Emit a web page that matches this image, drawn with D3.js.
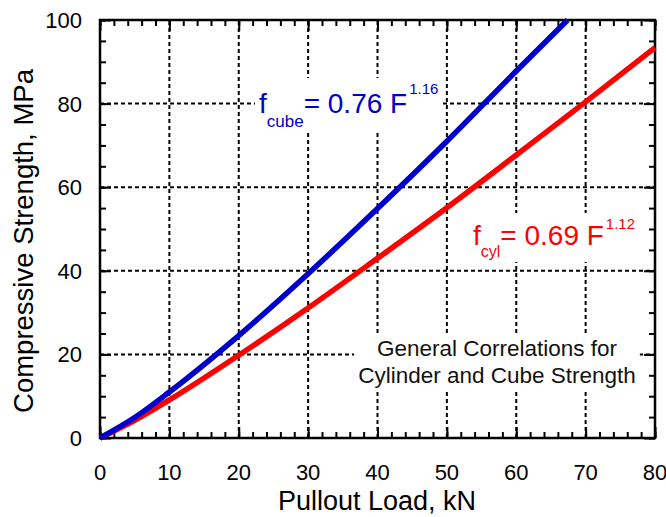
<!DOCTYPE html>
<html>
<head>
<meta charset="utf-8">
<script src="https://cdn.jsdelivr.net/npm/d3@7"></script>
<style>
  body { margin: 0; background: #fff; }
  text { font-family: "Liberation Sans", Arial, sans-serif; }
</style>
</head>
<body>
<script>
// values (load kN -> strength MPa)
const cubeLoad = [0, 5, 10, 20, 30, 40, 50, 60, 67.4];
const cubeStrength = [0, 4.9, 11, 24.5, 39.3, 54.9, 71, 87.8, 100];
const cylLoad = [0, 5, 10, 20, 30, 40, 50, 60, 70, 80];
const cylStrength = [0, 4.2, 9.1, 19.8, 31.1, 43, 55.1, 67.7, 80.4, 93.4];
const xTicks = [0, 10, 20, 30, 40, 50, 60, 70, 80];
const yTicks = [0, 20, 40, 60, 80, 100];

main();

function main() {
  const width = 666;
  const height = 517;
  const margin = { top: 20, right: 11, bottom: 79, left: 100 };

  const svg = d3.select("body").append("svg")
    .attr("width", width)
    .attr("height", height);

  const x = d3.scaleLinear().domain([0, 80]).range([margin.left, width - margin.right]);
  const y = d3.scaleLinear().domain([0, 100]).range([height - margin.bottom, margin.top]);

  // dotted grid
  const grid = svg.append("g")
    .attr("stroke", "#000")
    .attr("stroke-width", 2)
    .attr("stroke-dasharray", "4,3");
  grid.selectAll(".gx").data(xTicks.slice(1, -1)).join("line")
    .attr("x1", d => x(d)).attr("x2", d => x(d))
    .attr("y1", y(0)).attr("y2", y(100));
  grid.selectAll(".gy").data(yTicks.slice(1, -1)).join("line")
    .attr("y1", d => y(d)).attr("y2", d => y(d))
    .attr("x1", x(0)).attr("x2", x(80));

  // annotation texts sit on white boxes over the grid
  const notes = svg.append("g");

  const eq1 = notes.append("text").attr("x", 259).attr("y", 113)
    .attr("font-size", 28).attr("fill", "#0000cc");
  eq1.append("tspan").text("f");
  eq1.append("tspan").attr("font-size", 17).attr("dy", 14).text("cube");
  eq1.append("tspan").attr("dy", -14).text("= 0.76 F");
  eq1.append("tspan").attr("font-size", 15).attr("dy", -19).attr("dx", 2).text("1.16");

  const eq2 = notes.append("text").attr("x", 473).attr("y", 245)
    .attr("font-size", 28).attr("fill", "#ff0000");
  eq2.append("tspan").text("f");
  eq2.append("tspan").attr("font-size", 16).attr("dy", 12).text("cyl");
  eq2.append("tspan").attr("dy", -12).text("= 0.69 F");
  eq2.append("tspan").attr("font-size", 15).attr("dy", -16).attr("dx", 2).text("1.12");

  const note = notes.append("text")
    .attr("text-anchor", "middle").attr("font-size", 22.5).attr("fill", "#111");
  note.append("tspan").attr("x", 497).attr("y", 356).text("General Correlations for");
  note.append("tspan").attr("x", 497).attr("y", 383).text("Cylinder and Cube Strength");

  [eq1, eq2, note].forEach(t => {
    const b = t.node().getBBox();
    notes.insert("rect", () => t.node())
      .attr("x", b.x - 4).attr("y", b.y - 2)
      .attr("width", b.width + 8).attr("height", b.height + 4)
      .attr("fill", "#fff");
  });

  // inward ticks on all four sides
  const tickFmt = () => "";
  const xMinor = d3.range(0, 81, 2);
  const yMinor = d3.range(0, 101, 5);
  const axes = [
    d3.axisBottom(x).tickValues(xMinor).tickSize(-6),
    d3.axisTop(x).tickValues(xMinor).tickSize(-6),
    d3.axisLeft(y).tickValues(yMinor).tickSize(-6),
    d3.axisRight(y).tickValues(yMinor).tickSize(-6),
    d3.axisBottom(x).tickValues(xTicks).tickSize(-11),
    d3.axisTop(x).tickValues(xTicks).tickSize(-11),
    d3.axisLeft(y).tickValues(yTicks).tickSize(-11),
    d3.axisRight(y).tickValues(yTicks).tickSize(-11)
  ];
  const trans = [
    `translate(0,${y(0)})`, `translate(0,${y(100)})`,
    `translate(${x(0)},0)`, `translate(${x(80)},0)`
  ];
  axes.forEach((a, i) => {
    const g = svg.append("g")
      .attr("transform", trans[i % 4])
      .call(a.tickFormat(tickFmt).tickSizeOuter(0));
    g.select(".domain").remove();
    g.selectAll("line").attr("stroke", "#000").attr("stroke-width", 2);
  });

  // tick labels
  svg.append("g").selectAll("text").data(xTicks).join("text")
    .attr("x", d => x(d)).attr("y", 480)
    .attr("text-anchor", "middle")
    .attr("font-size", 22)
    .text(d => d);
  svg.append("g").selectAll("text").data(yTicks).join("text")
    .attr("x", 82).attr("y", d => y(d) + 8)
    .attr("text-anchor", "end")
    .attr("font-size", 22)
    .text(d => d);

  // frame
  svg.append("rect")
    .attr("x", x(0)).attr("y", y(100))
    .attr("width", x(80) - x(0)).attr("height", y(0) - y(100))
    .attr("fill", "none").attr("stroke", "#000").attr("stroke-width", 2.5);

  // curves
  const line = d3.line().x(d => x(d[0])).y(d => y(d[1])).curve(d3.curveMonotoneX);
  svg.append("path")
    .datum(cylLoad.map((d, i) => [d, cylStrength[i]]))
    .attr("d", line)
    .attr("fill", "none").attr("stroke", "#ff0000").attr("stroke-width", 5.5);
  svg.append("path")
    .datum(cubeLoad.map((d, i) => [d, cubeStrength[i]]))
    .attr("d", line)
    .attr("fill", "none").attr("stroke", "#0000cc").attr("stroke-width", 5.5);

  // axis titles
  svg.append("text").attr("x", 377).attr("y", 510)
    .attr("text-anchor", "middle").attr("font-size", 27)
    .text("Pullout Load, kN");
  svg.append("text")
    .attr("transform", `translate(33,241) rotate(-90)`)
    .attr("text-anchor", "middle").attr("font-size", 27.5)
    .text("Compressive Strength, MPa");
}
</script>
</body>
</html>
